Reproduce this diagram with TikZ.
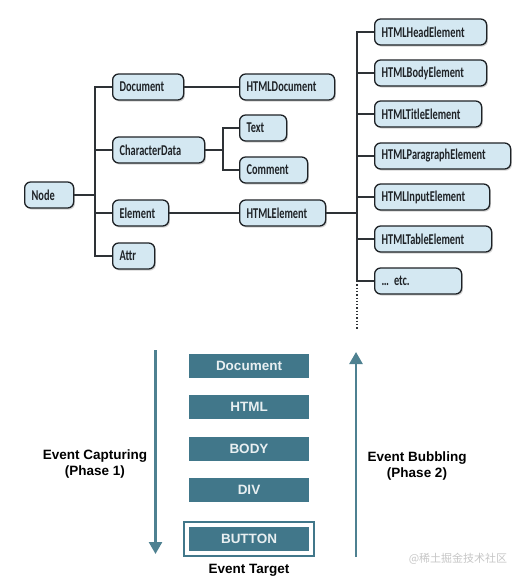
\documentclass[tikz,border=0pt]{standalone}
\usepackage{fontspec}
\setmainfont{Liberation Sans}
\newfontfamily\treefont[FakeStretch=0.69]{Carlito}
\newfontfamily\cjk{Noto Sans CJK SC}
\usepackage{tikz}
\usetikzlibrary{arrows.meta, positioning, fit, shadows}
\definecolor{boxfill}{HTML}{D4E8F2}
\definecolor{boxline}{HTML}{1E2226}
\definecolor{wire}{HTML}{2E3236}
\definecolor{phase}{HTML}{41778A}
\definecolor{phasearrow}{HTML}{4E8191}

\begin{document}
\begin{tikzpicture}[x=1pt, y=-1pt, >=Stealth,
  tbox/.style={draw=boxline, line width=1.3pt, fill=boxfill, rounded corners=6pt,
    anchor=west, text width=#1, align=left, inner xsep=7pt, inner ysep=0pt,
    minimum height=26pt, text=boxline, font=\treefont\bfseries\fontsize{15}{16}\selectfont,
    drop shadow={shadow xshift=1.3pt, shadow yshift=-1.6pt, opacity=0.35}},
  wires/.style={draw=wire, line width=1.3pt},
  lbox/.style={fill=phase, text=white!88!phase, minimum width=120pt, minimum height=24pt,
    inner sep=0pt, font=\bfseries\fontsize{13.5}{14}\selectfont},
  phaselbl/.style={align=center, font=\bfseries\fontsize{13.5}{16}\selectfont},
  flow/.style={draw=phasearrow, line width=2.5pt, -{Triangle[width=13pt,length=12pt]}}]
  \useasboundingbox (0,0) rectangle (527,581);

  % class tree
  \node[tbox=35pt] (node) at (24,195) {Node};
  \node[tbox=57pt] (doc) at (112,87) {Document};
  \node[tbox=78pt] (chardata) at (112,150) {CharacterData};
  \node[tbox=42pt] (elem) at (112,213) {Element};
  \node[tbox=28pt] (attr) at (112,256) {Attr};
  \node[tbox=33pt] (text) at (239,128) {Text};
  \node[tbox=54pt] (comment) at (239,170) {Comment};
  \node[tbox=81pt] (htmldoc) at (239,87) {HTMLDocument};
  \node[tbox=72pt] (htmlelem) at (239,213) {HTMLElement};
  \node[tbox=98pt] (head) at (374,32) {HTMLHeadElement};
  \node[tbox=98pt] (body) at (374,73) {HTMLBodyElement};
  \node[tbox=93pt] (title) at (374,114) {HTMLTitleElement};
  \node[tbox=122pt] (para) at (374,156) {HTMLParagraphElement};
  \node[tbox=101pt] (input) at (374,197) {HTMLInputElement};
  \node[tbox=103pt] (table) at (374,239) {HTMLTableElement};
  \node[tbox=73pt] (etc) at (374,281) {\ldots\ etc.};

  \coordinate (jnode) at (95,195);
  \coordinate (jchar) at (223,150);
  \coordinate (jhtml) at (357,213);
  \coordinate (more) at (357,330);

  \path[wires] (node.east) -- (jnode);
  \foreach \n in {doc, chardata, elem, attr}
    \path[wires] (jnode) |- (\n.west);
  \path[wires] (chardata.east) -- (jchar);
  \foreach \n in {text, comment}
    \path[wires] (jchar) |- (\n.west);
  \path[wires] (doc.east) -- (htmldoc.west);
  \path[wires] (elem.east) -- (htmlelem.west);
  \path[wires] (htmlelem.east) -- (jhtml);
  \foreach \n in {head, body, title, para, input, table, etc}
    \path[wires] (jhtml) |- (\n.west);
  \path[wires, dotted] (jhtml |- etc.west) -- (more);

  % event phases
  \node[lbox] (pdoc) at (249,366) {Document};
  \node[lbox] (phtml) at (249,407) {HTML};
  \node[lbox] (pbody) at (249,448.5) {BODY};
  \node[lbox] (pdiv) at (249,490) {DIV};
  \node[lbox] (pbtn) at (249,539) {BUTTON};
  \node[draw=phase, line width=2pt, fit=(pbtn), inner sep=5pt] (target) {};
  \node[below=3pt of target, font=\bfseries\fontsize{13.5}{14}\selectfont] (targetlbl) {Event Target};

  \coordinate (captop) at (155.5,350);
  \coordinate (capbot) at (155.5,554);
  \coordinate (bubbot) at (356,557);
  \coordinate (bubtop) at (356,352);
  \path[flow] (captop) -- (capbot);
  \path[flow] (bubbot) -- (bubtop);
  \node[phaselbl] (capture) at (95,464) {Event Capturing\\(Phase 1)};
  \node[phaselbl] (bubble) at (417,466) {Event Bubbling\\(Phase 2)};

  \node[text=gray!45, font=\cjk\fontsize{11}{12}\selectfont] (mark) at (458,559) {@稀土掘金技术社区};
\end{tikzpicture}
\end{document}
